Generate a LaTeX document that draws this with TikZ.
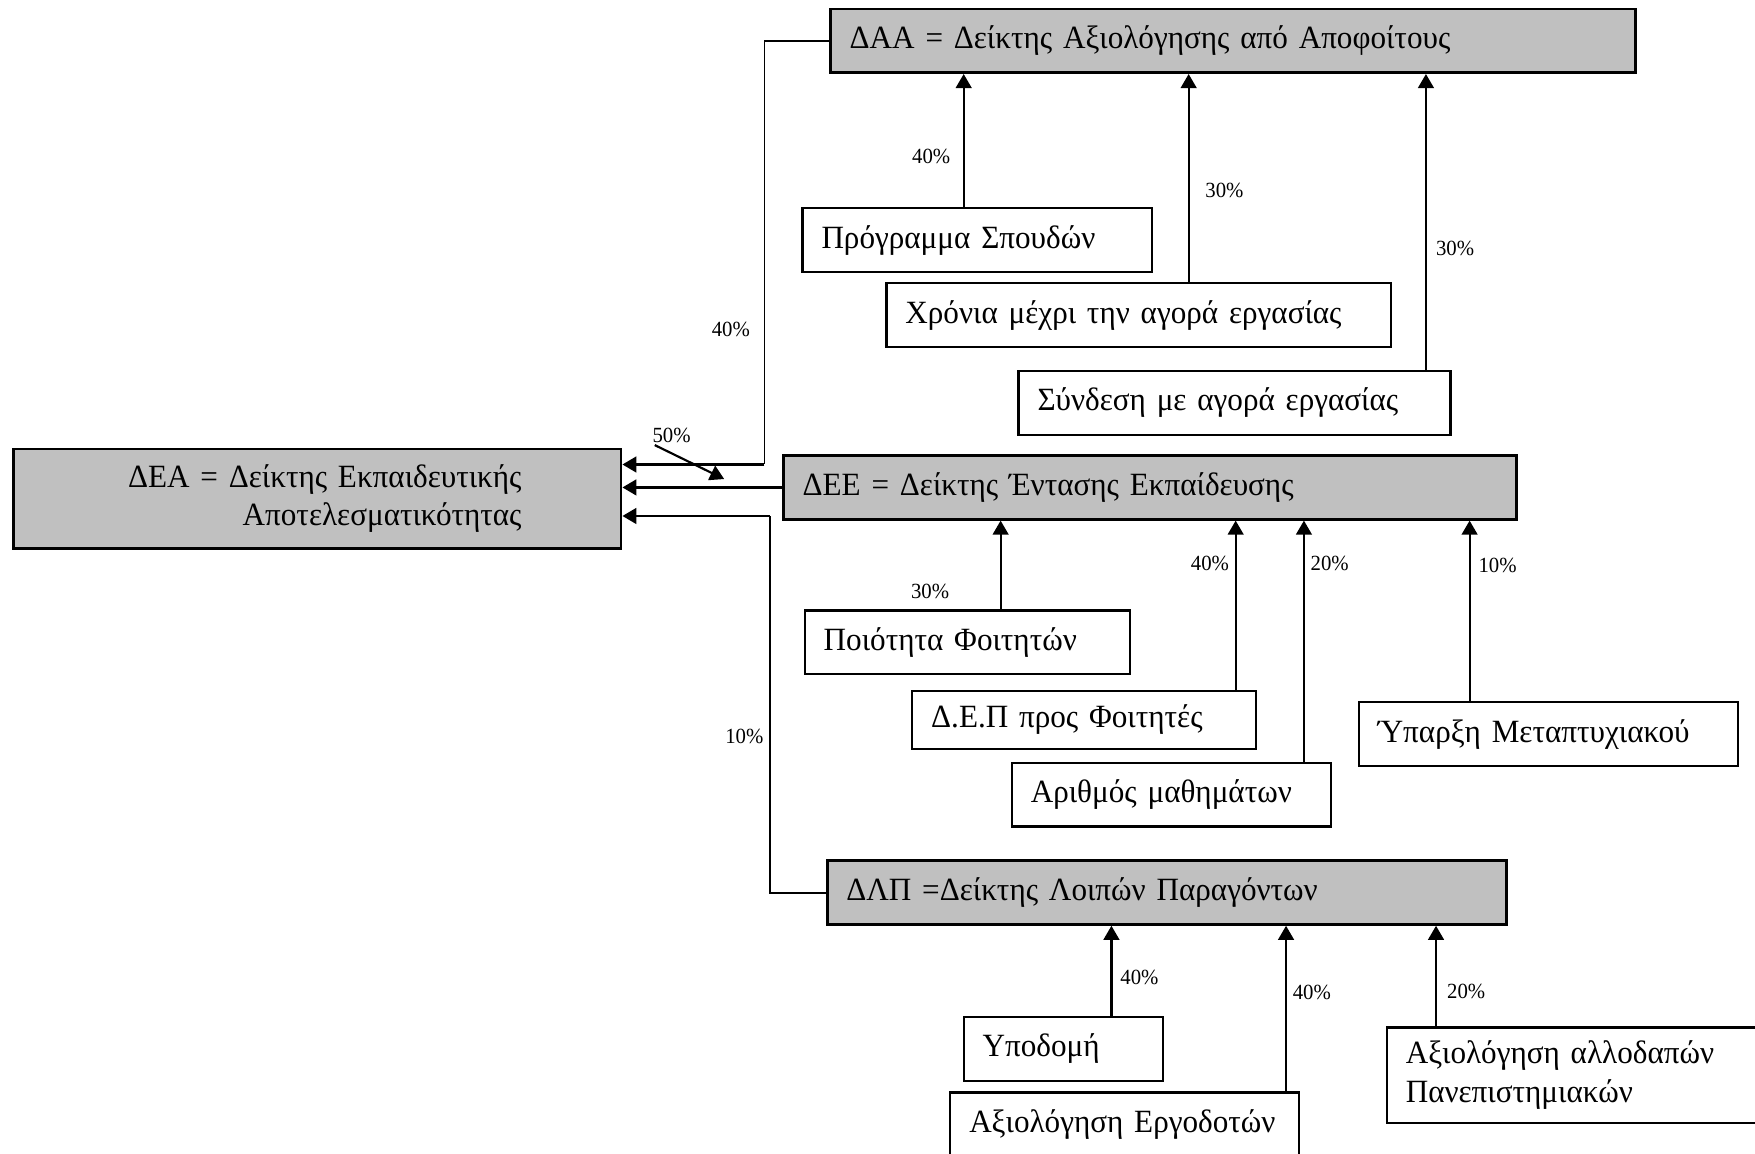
\documentclass[tikz,border=0pt]{standalone}
\usepackage{fontspec}
\setmainfont[FakeStretch=0.96]{Liberation Serif}
\usepackage{tikz}
\usetikzlibrary{positioning,arrows.meta}
\definecolor{boxgray}{RGB}{192,192,192}

\begin{document}
\begin{tikzpicture}[
        x=0.02cm, y=-0.02cm,
        box/.style={draw, line width=1.1pt, minimum height=1.14cm,
                    inner xsep=0.34cm, inner ysep=0pt, align=left, anchor=west,
                    font=\fontsize{16.5}{19.5}\selectfont},
        idx/.style={box, fill=boxgray, line width=1.3pt},
        lbl/.style={font=\fontsize{11}{13}\selectfont, inner sep=1pt},
        arr/.style={->, >={Triangle[length=0.25cm, width=0.28cm]}, line width=1.1pt},
    ]
    \useasboundingbox (0,0) rectangle (1568,1031);

    % --- Główny wskaźnik ---
    \node[idx, anchor=center, align=right, text width=7.3cm, minimum width=10.86cm,
          minimum height=1.78cm] (dea) at (283.5,445.5)
          {ΔΕΑ = Δείκτης Εκπαιδευτικής\\Αποτελεσματικότητας};

    % --- Wskaźniki cząstkowe ---
    \node[idx, text width=13.7cm] (daa) at (741,36.5) {ΔΑΑ = Δείκτης Αξιολόγησης από Αποφοίτους};
    \node[idx, text width=12.42cm] (dee) at (699,435.5) {ΔΕΕ = Δείκτης Έντασης Εκπαίδευσης};
    \node[idx, text width=11.46cm] (dlp) at (738,797.5) {ΔΛΠ =Δείκτης Λοιπών Παραγόντων};

    % --- Czynniki ΔΑΑ ---
    \node[box, text width=5.56cm] (prog) at (716,214.5) {Πρόγραμμα Σπουδών};
    \node[box, text width=8.34cm] (xron) at (791,281.5) {Χρόνια μέχρι την αγορά εργασίας};
    \node[box, text width=7.04cm] (synd) at (909,360) {Σύνδεση με αγορά εργασίας};

    % --- Czynniki ΔΕΕ ---
    \node[box, text width=5.14cm] (poiot) at (718,574) {Ποιότητα Φοιτητών};
    \node[box, text width=5.46cm, minimum height=1.04cm] (dep) at (814,643) {Δ.Ε.Π προς Φοιτητές};
    \node[box, text width=5.02cm] (arith) at (903,710) {Αριθμός μαθημάτων};
    \node[box, text width=6.1cm] (yparx) at (1213,656) {Ύπαρξη Μεταπτυχιακού};

    % --- Czynniki ΔΛΠ ---
    \node[box, text width=2.88cm] (ypod) at (860,937) {Υποδομή};
    \node[box, text width=5.56cm] (ergod) at (848,1004.5) {\mbox{Αξιολόγηση Εργοδοτών}};
    \node[box, text width=6.06cm, minimum height=1.7cm] (allod) at (1238,960.5)
          {Αξιολόγηση αλλοδαπών\\Πανεπιστημιακών};

    % --- Strzałki do ΔΑΑ ---
    \draw[arr] (861,0 |- prog.north) -- (861,0 |- daa.south);
    \draw[arr] (1062,0 |- xron.north) -- (1062,0 |- daa.south);
    \draw[arr] (1274,0 |- synd.north) -- (1274,0 |- daa.south);
    \node[lbl] (w1) at (832,140) {40\%};
    \node[lbl] (w2) at (1094,170) {30\%};
    \node[lbl] (w3) at (1300,222) {30\%};

    % --- Strzałki do ΔΕΕ ---
    \draw[arr] (894,0 |- poiot.north) -- (894,0 |- dee.south);
    \draw[arr] (1104,0 |- dep.north) -- (1104,0 |- dee.south);
    \draw[arr] (1165,0 |- arith.north) -- (1165,0 |- dee.south);
    \draw[arr] (1313,0 |- yparx.north) -- (1313,0 |- dee.south);
    \node[lbl] (w4) at (831,528) {30\%};
    \node[lbl] (w5) at (1081,503) {40\%};
    \node[lbl] (w6) at (1188,503) {20\%};
    \node[lbl] (w7) at (1338,505) {10\%};

    % --- Strzałki do ΔΛΠ ---
    \draw[arr] (993,0 |- ypod.north) -- (993,0 |- dlp.south);
    \draw[arr] (1149,0 |- ergod.north) -- (1149,0 |- dlp.south);
    \draw[arr] (1283,0 |- allod.north) -- (1283,0 |- dlp.south);
    \node[lbl] (w8) at (1018,873) {40\%};
    \node[lbl] (w9) at (1172,887) {40\%};
    \node[lbl] (w10) at (1310,886) {20\%};

    % --- Strzałki do ΔΕΑ ---
    \coordinate (k1) at (683,415);
    \coordinate (k3) at (688,461);
    \draw[line width=0.9pt] (daa.west) -| (k1);
    \draw[arr, line width=1.3pt] (k1) -- (dea.east |- k1);
    \draw[arr, line width=1.3pt] (dee.west) -- (dea.east |- dee.west);
    \draw[line width=0.9pt] (dlp.west) -| (k3);
    \draw[arr, line width=1.3pt] (k3) -- (dea.east |- k3);
    \node[lbl] (w11) at (653,294) {40\%};
    \node[lbl] (w12) at (665,658) {10\%};
    \node[lbl] (w13) at (600,389) {50\%};
    \coordinate (p50) at (647,428);
    \draw[arr] (585,0 |- w13.south) -- (p50);
\end{tikzpicture}
\end{document}
